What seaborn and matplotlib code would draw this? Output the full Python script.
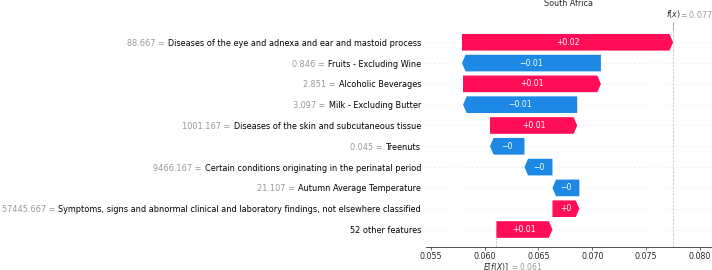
import numpy as np
import matplotlib
matplotlib.use("Agg")
import matplotlib.pyplot as plt
import seaborn as sns

# -------------------------------
# Data (top row first)
# -------------------------------
feature_names = [
    "Diseases of the eye and adnexa and ear and mastoid process",
    "Fruits - Excluding Wine",
    "Alcoholic Beverages",
    "Milk - Excluding Butter",
    "Diseases of the skin and subcutaneous tissue",
    "Treenuts",
    "Certain conditions originating in the perinatal period",
    "Autumn Average Temperature",
    "Symptoms, signs and abnormal clinical and laboratory findings, not elsewhere classified",
    "52 other features",
]
feature_values = ["88.667", "0.846", "2.851", "3.097", "1001.167",
                  "0.045", "9466.167", "21.107", "57445.667", ""]
shap_values = [0.0196, -0.0129, 0.0128, -0.0106, 0.0081,
               -0.0032, -0.0026, -0.0025, 0.0025, 0.0052]
base_value = 0.0611
title = "South Africa"

POS_COLOR = "#ff0d57"
NEG_COLOR = "#1e88e5"
LABEL_FS = 5.9


def fmt_val(v, fmt):
    s = (fmt % v).rstrip("0").rstrip(".")
    if s.startswith("-"):
        s = "\u2212" + s[1:]
    return s


# -------------------------------
# Figure setup
# -------------------------------
sns.set_style("white")
plt.rcParams["font.family"] = ["DejaVu Sans"]

fig = plt.figure(figsize=(7.12, 2.7), dpi=100)
ax = fig.add_axes([0.5983, 0.0852, 0.9986 - 0.5983, 0.8889 - 0.0852])

n = len(feature_names)
ypos = np.arange(n)

# waterfall starting points, built from the bottom row up
starts = np.zeros(n)
run = base_value
for i in reversed(range(n)):
    starts[i] = run
    run += shap_values[i]
fx = run

xmin, xmax = 0.05456, 0.08102
ax.set_xlim(xmin, xmax)
ax.set_ylim(n - 1 + 0.84, -0.59)

# head length ~ 3.5 px in data units
bbox = ax.get_window_extent()
hl = 3.6 * (xmax - xmin) / bbox.width

for i in range(n):
    v = shap_values[i]
    col = POS_COLOR if v > 0 else NEG_COLOR
    ax.arrow(starts[i], ypos[i], v, 0,
             width=0.8, head_width=0.8, head_length=min(hl, abs(v)),
             length_includes_head=True, color=col, linewidth=0, zorder=3)
    ax.text(starts[i] + v / 2, ypos[i], fmt_val(v, "%+0.02f"),
            ha="center", va="center", color="white", fontsize=5.6, zorder=4)

# faint row lines
for y in ypos:
    ax.axhline(y, color="#cccccc", lw=0.5, dashes=(1, 5), zorder=-1)

# expected value and prediction markers
ax.axvline(base_value, 0, 1 / n, color="#bbbbbb", linestyle="--", linewidth=0.5, zorder=-1)
ax.axvline(fx, 0, 1, color="#bbbbbb", linestyle="--", linewidth=0.5, zorder=-1)

# y labels: black feature names
ax.set_yticks(ypos)
ax.set_yticklabels(feature_names, fontsize=LABEL_FS, color="black")
ax.tick_params(axis="y", length=0, pad=3.5)

ax.set_xticks([0.055, 0.060, 0.065, 0.070, 0.075, 0.080])
ax.set_xticklabels(["0.055", "0.060", "0.065", "0.070", "0.075", "0.080"])
ax.tick_params(axis="x", labelsize=5.7, length=2, width=0.5, pad=1.5, direction="out",
               bottom=True)
sns.despine(ax=ax, left=True, top=True, right=True)
ax.spines["bottom"].set_linewidth(0.6)
ax.spines["bottom"].set_color("#333333")

# gray "value =" in front of each name
fig.canvas.draw()
renderer = fig.canvas.get_renderer()
inv = ax.transAxes.inverted()
for lab, fv in zip(ax.yaxis.get_majorticklabels(), feature_values):
    if not fv:
        continue
    ext = lab.get_window_extent(renderer)
    x0, yc = inv.transform((ext.x0 - 3.2, (ext.y0 + ext.y1) / 2))
    ax.text(x0, yc, fv + " =", transform=ax.transAxes, ha="right", va="center",
            fontsize=LABEL_FS, color="#999999", clip_on=False)

# f(x) tick on top
ax.plot([fx, fx], [1.0, 1.035], transform=ax.get_xaxis_transform(),
        color="#888888", lw=0.5, clip_on=False)
ax.annotate("$f(x)$", xy=(fx, 1.0), xycoords=("data", "axes fraction"),
            xytext=(0, 7), textcoords="offset points", ha="center", va="bottom", fontsize=5.7)
ax.annotate("$ = " + fmt_val(fx, "%0.03f") + "$", xy=(fx, 1.0), xycoords=("data", "axes fraction"),
            xytext=(4.5, 7), textcoords="offset points", ha="left", va="bottom",
            fontsize=5.7, color="#999999")

# E[f(X)] label below axis
ax.annotate("$E[f(X)]$", xy=(base_value, 0.0), xycoords=("data", "axes fraction"),
            xytext=(0, -10.0), textcoords="offset points", ha="center", va="top", fontsize=5.5)
ax.annotate("$ = " + fmt_val(base_value, "%0.03f") + "$", xy=(base_value, 0.0),
            xycoords=("data", "axes fraction"),
            xytext=(10, -10.0), textcoords="offset points", ha="left", va="top",
            fontsize=5.5, color="#999999")

ax.set_title(title, fontsize=5.8, pad=17)

fig.savefig("out.png", dpi=100)
